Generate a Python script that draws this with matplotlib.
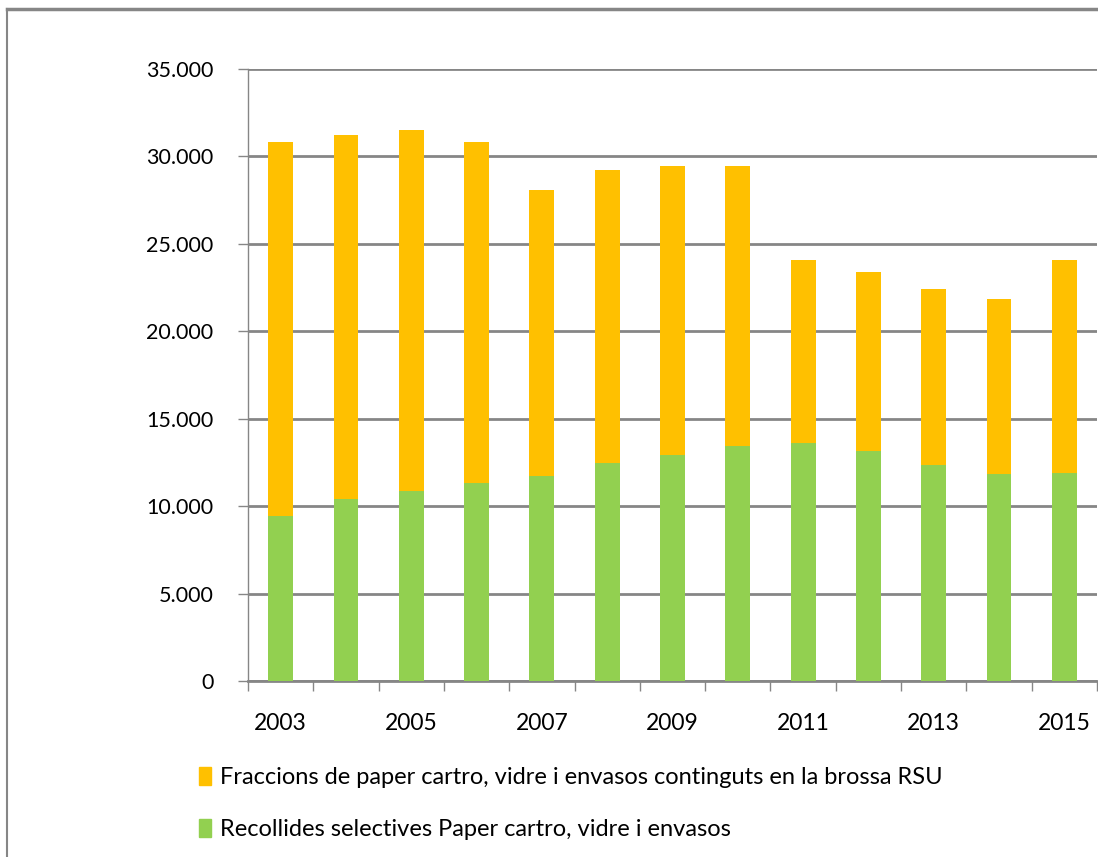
import matplotlib
matplotlib.use("Agg")
import matplotlib.pyplot as plt
from matplotlib.lines import Line2D
from matplotlib.ticker import FuncFormatter

years = [2003, 2004, 2005, 2006, 2007, 2008, 2009, 2010, 2011, 2012, 2013, 2014, 2015]
recollides = [9450, 10400, 10850, 11300, 11750, 12450, 12900, 13450, 13600, 13150, 12350, 11850, 11900]
totals = [30800, 31200, 31500, 30800, 28100, 29200, 29450, 29450, 24100, 23400, 22400, 21850, 24050]
fraccions = [t - r for t, r in zip(totals, recollides)]

label_fraccions = "Fraccions de paper cartro, vidre i envasos continguts en la brossa RSU"
label_recollides = "Recollides selectives Paper cartro, vidre i envasos"

plt.rcParams['font.family'] = ['Lato', 'DejaVu Sans']

grey = '#868686'
fig = plt.figure(figsize=(10.98, 8.57), dpi=100)
ax = fig.add_axes([248 / 1098, 1 - 681 / 857, 849 / 1098, 612 / 857])

x = list(range(len(years)))
ax.bar(x, recollides, width=0.38, color='#92D050', zorder=3)
ax.bar(x, fraccions, width=0.38, bottom=recollides, color='#FFC000', zorder=3)

ax.set_xlim(-0.5, len(years) - 0.5)
ax.set_ylim(0, 35000)
ax.set_yticks(range(0, 35001, 5000))
ax.yaxis.set_major_formatter(FuncFormatter(lambda v, p: f"{int(v):,}".replace(",", ".")))
ax.yaxis.grid(True, color=grey, linewidth=2, zorder=0)

ax.set_xticks(x[::2])
ax.set_xticklabels([str(y) for y in years[::2]])
ax.set_xticks([i - 0.5 for i in range(len(years) + 1)], minor=True)
ax.tick_params(axis='x', which='major', length=0, pad=23, labelsize=16.5)
ax.tick_params(axis='x', which='minor', length=7, width=1, color=grey)
ax.tick_params(axis='y', length=7, width=1, color=grey, pad=18, labelsize=15.5)

for s in ['top', 'right']:
    ax.spines[s].set_visible(False)
ax.spines['left'].set_color(grey)
ax.spines['left'].set_linewidth(1)
ax.spines['bottom'].set_color(grey)
ax.spines['bottom'].set_linewidth(2)

handles = [plt.Rectangle((0, 0), 1, 1, color='#FFC000'),
           plt.Rectangle((0, 0), 1, 1, color='#92D050')]
fig.legend(handles, [label_fraccions, label_recollides], loc='upper left',
           bbox_to_anchor=(178 / 1098, 1 - 746 / 857), frameon=False,
           fontsize=17, handlelength=0.5, handleheight=0.8, handletextpad=0.4,
           labelspacing=1.3)

# outer chart frame (top and left edges visible)
fig.add_artist(Line2D([7 / 1098, 1], [1 - 9 / 857, 1 - 9 / 857], color=grey, linewidth=2.5))
fig.add_artist(Line2D([7 / 1098, 7 / 1098], [0, 1 - 9 / 857], color=grey, linewidth=1.5))

fig.savefig('out.png', dpi=100)
